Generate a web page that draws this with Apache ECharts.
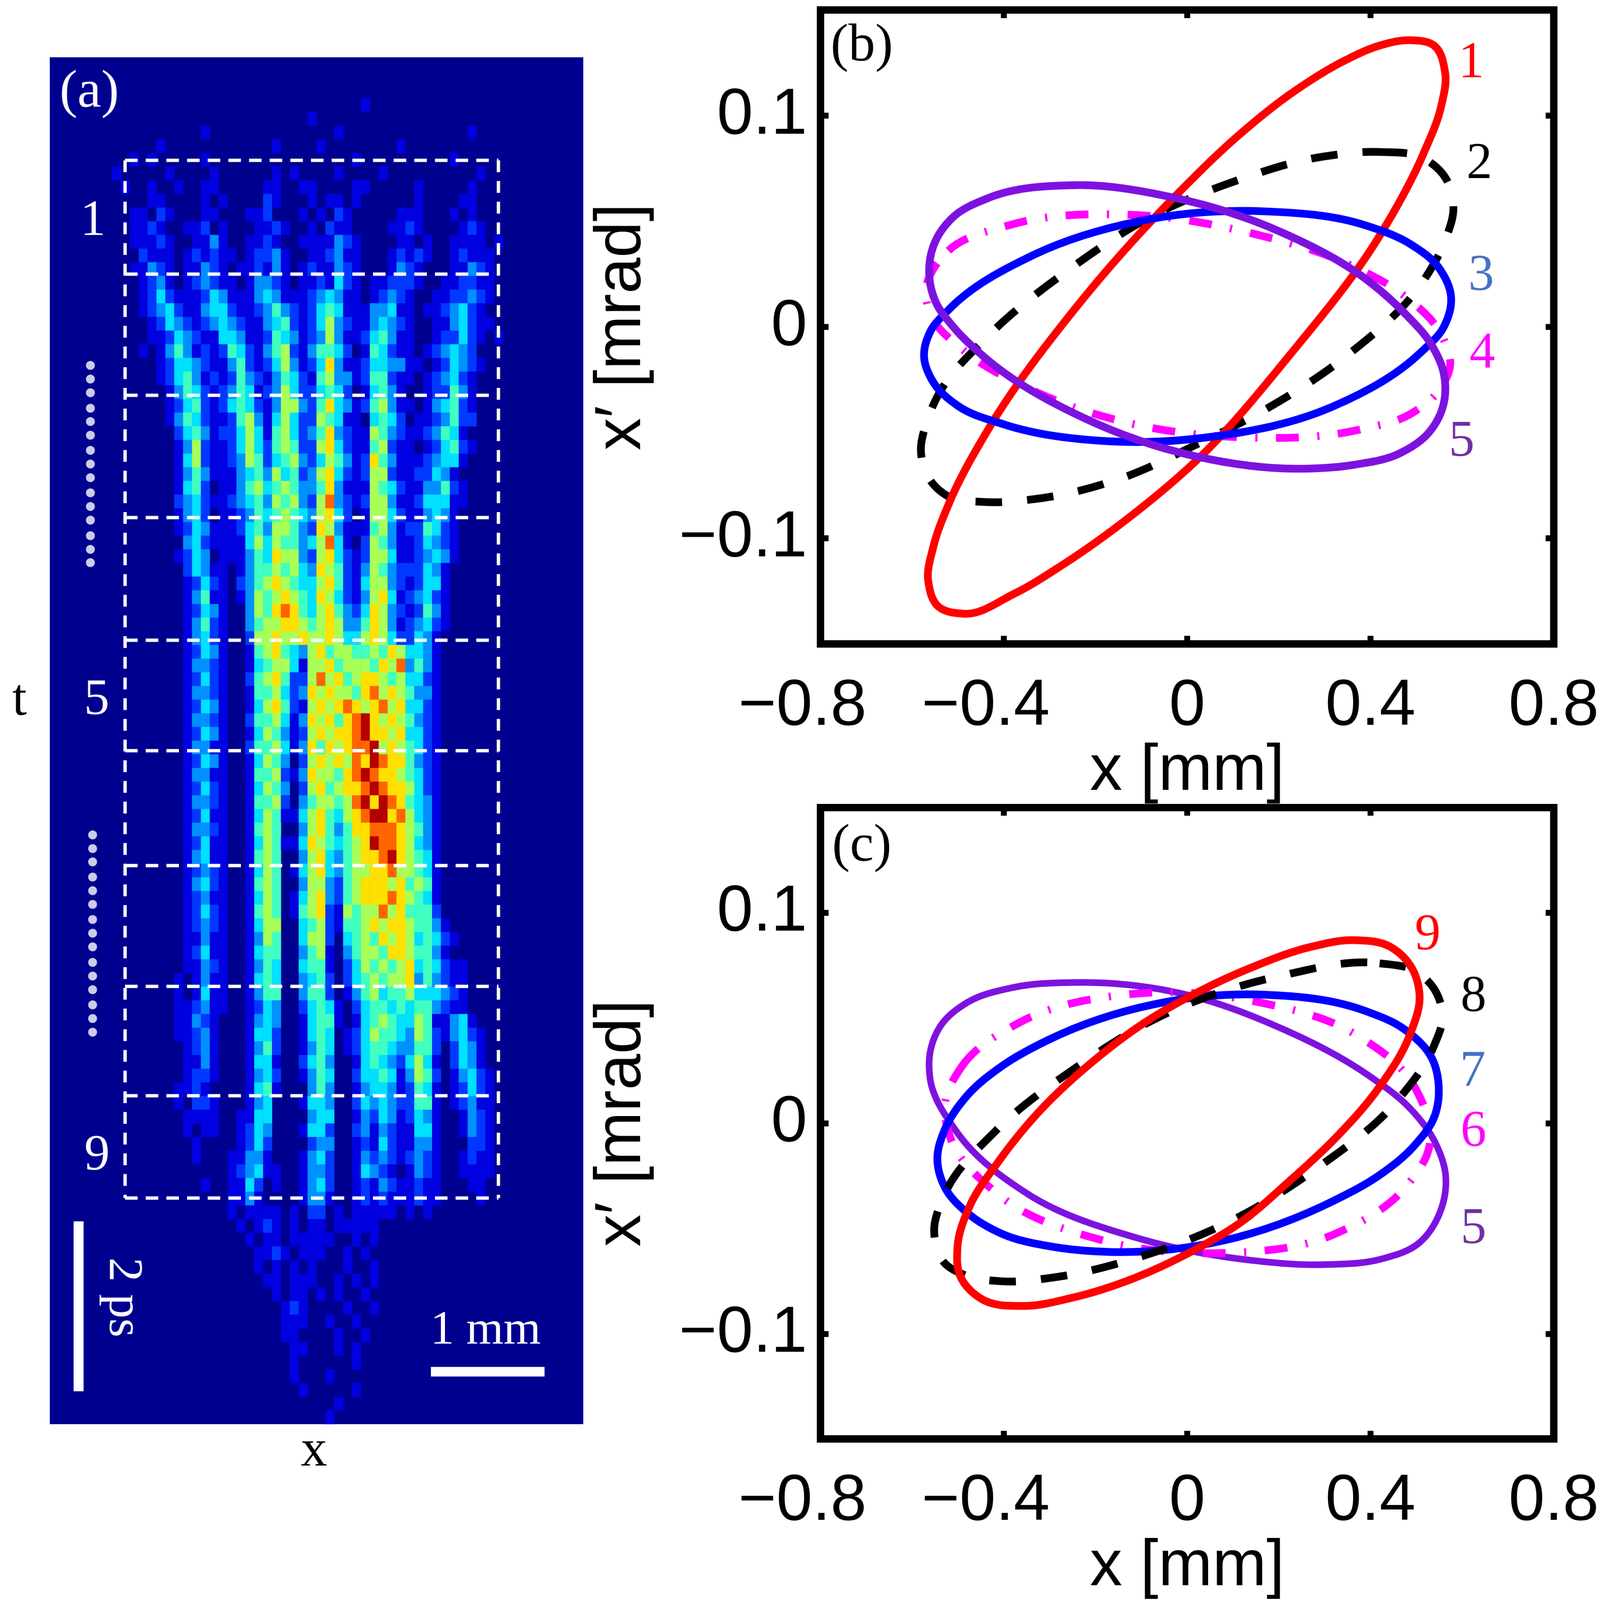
<!DOCTYPE html>
<html>
<head>
<meta charset="utf-8">
<title>beam slices</title>
<script src="https://cdn.jsdelivr.net/npm/echarts@6/dist/echarts.min.js"></script>
<style>
html, body { margin: 0; padding: 0; background: #fff; overflow: hidden; }
#main { width: 4337px; height: 4331px; transform-origin: 0 0; }
</style>
</head>
<body>
<div id="main"></div>
<script>
'use strict';

// (a) streak image, one digit per cell (0 = background, 9 = peak), read row by row from the top
var streakRows = [
'0000000000 0000000000 0000000000 0000000000 0000000000 0000000000',
'0000000000 0000000000 0000000000 0000000000 0000000000 0000000000',
'0000000000 0000000000 0000000000 0000000000 0000000000 0000000000',
'0000000000 0000000000 0000000000 0000010000 0000000000 0000000000',
'0000000000 0000000000 0000000001 0000000000 0000000000 0000000000',
'0000000000 0000000100 0000000000 0010000000 0000000100 0000000000',
'0000000000 0010000000 0000010000 1000000001 0000000000 0000000000',
'0000000001 0100000100 0000000000 0000100000 0000010000 0000000000',
'0000000100 0001000010 0000010100 0010000100 0000000010 0000000000',
'0000000010 0100100110 0000110011 0000110000 0100000100 0000000000',
'0000000000 0110000101 0000210001 0110100000 0100001100 0000000000',
'0000000001 1021000110 0011200010 1021000001 1100010100 0000000000',
'0000000001 1210011201 0001121001 0211000011 2100001210 0000000000',
'0000000001 1121001131 0011210011 1132100001 1010011110 1000000000',
'0000000000 2111012121 1012231001 1231100012 1210012111 0000000000',
'0000000001 1321011321 0112131012 1132100013 2100011321 0000000000',
'0000000000 1231012321 1013321011 2142101122 2100112211 0000000000',
'0000000000 1242111243 1113431112 3431101232 1001122321 0000000000',
'0000000000 1234211344 2112353212 4541113341 1011234210 0000000000',
'0000000000 0124321234 3211345212 4632113432 1001134211 0000000000',
'0000000000 0112432114 4311254312 3631124531 1001224210 1000000000',
'0000000000 1013531212 5421356213 5542015421 1012343200 0000000000',
'0000000000 0012443211 3521246312 4731124433 1101243210 0000000000',
'0000000000 0012453121 2532135421 5633125521 1012342100 0000000000',
'0000000000 0001354212 3541236422 4542014531 0012253100 0000000000',
'0000000000 0001245212 4542136632 5743125631 1013452100 0000000000',
'0000000000 0001354211 2563146422 6541104542 0112352200 0000000000',
'0000000000 0000245312 2464156423 5732116532 1123541000 0000000000',
'0000000000 0000136211 2464256522 6742115621 1012452100 0000000000',
'0000000000 0000146211 2365245632 4653127531 1123441000 0000000000',
'0000000000 0000135311 1345364523 6742126621 1224310000 0000000000',
'0000000000 0000145201 1356456533 5731116542 1133521000 0000000000',
'0000000000 0000234211 2345365632 6832126631 1244411000 0000000000',
'0000000000 0000134201 1235456543 6742016642 1134310000 0000000000',
'0000000000 0000124311 1245366532 7631115631 2254210000 0000000000',
'0000000000 0000034211 1146465534 6841026531 1243210000 0000000000',
'0000000000 0000124301 1135476632 6742126641 1234310000 0000000000',
'0000000000 0000024311 0135565643 7652136532 2243100000 0000000000',
'0000000000 0000012421 0235676544 6752146632 1244100000 0000000000',
'0000000000 0000013511 0136567654 7642136741 2342100000 0000000000',
'0000000000 0000012431 0036578754 6753247632 1253100000 0000000000',
'0000000000 0000013521 0035667765 6763357631 2342100000 0000000000',
'0000000000 0000013421 0026676676 6764467642 2431000000 0000000000',
'0000000000 0000012431 0015675436 7566556576 4431000000 0000000000',
'0000000000 0000013321 0014566416 6756665768 3531000000 0000000000',
'0000000000 0000012421 0025675226 8675677656 4421000000 0000000000',
'0000000000 0000013321 0015564237 6766578676 5331000000 0000000000',
'0000000000 0000012431 0014675216 7678767867 4421000000 0000000000',
'0000000000 0000013321 0025564137 6757897676 5321000000 0000000000',
'0000000000 0000012431 0014653126 7677897767 4421000000 0000000000',
'0000000000 0000013311 0025564137 5767889676 5421000000 0000000000',
'0000000000 0000012431 0014653026 7676879877 5321000000 0000000000',
'0000000000 0000013311 0015562137 6657898776 5421000000 0000000000',
'0000000000 0000012421 0014653026 7567789877 6421000000 0000000000',
'0000000000 0000013321 0015562035 6656897987 5431000000 0000000000',
'0000000000 0000012411 0014651146 7546789978 6431000000 0000000000',
'0000000000 0000013321 0015650036 7535778887 6531000000 0000000000',
'0000000000 0000012411 0014651147 6545679887 6431000000 0000000000',
'0000000000 0000013411 0015650036 7435677897 6541000000 0000000000',
'0000000000 0000012321 0014650146 7435667786 6541000000 0000000000',
'0000000000 0000013421 0015650036 6325677767 5651000000 0000000000',
'0000000000 0000012311 0014650146 7325677787 6541000000 0000000000',
'0000000000 0000012421 0015650156 7216566867 5552000000 0000000000',
'0000000000 0000012321 0014660045 6215567677 6553100000 0000000000',
'0000000000 0000011311 0013650046 6204565767 6454210000 0000000000',
'0000000000 0000012411 0014550035 6103566577 6553100000 0000000000',
'0000000000 0000011321 0013540045 5102465656 7454211000 0000000000',
'0000000000 0000101311 0014540034 5202456566 7353211000 0000000000',
'0000000000 0000101411 0013550035 5201356455 6444321000 0000000000',
'0000000000 0000112311 0012430024 5410245545 4553211000 0000000000',
'0000000000 0000113210 0013430014 5510145654 4651134100 0000000000',
'0000000000 0000112310 0014420014 5401246554 3652134210 0000000000',
'0000000000 0000012310 0013520013 5401245543 3552024310 0000000000',
'0000000000 0000011310 0014410024 5300145432 4641024310 0000000000',
'0000000000 0000012210 0013420013 5400244541 3652013421 0000000000',
'0000000000 0000112100 0014510003 5300134431 2541012421 0000000000',
'0000000000 0000102210 0013400014 4300243432 2551012311 0000000000',
'0000000000 0000011110 0114400003 4400132431 2431001321 0000000000',
'0000000000 0000010110 0124300014 4200231321 1441001321 0000000000',
'0000000000 0000001000 0124200002 3300121421 1331000221 0000000000',
'0000000000 0000001000 1133100013 4200132321 2321001211 0000000000',
'0000000000 0000000000 1234110013 3200143210 1321001111 0000000000',
'0000000000 0000000100 1142010013 4200121321 1211000110 0000000000',
'0000000000 0000000000 1131000013 3100121211 1211000010 0000000000',
'0000000000 0000000000 1011110102 2010111110 1010000000 0000000000',
'0000000000 0000000000 0101210101 1011111000 0000000000 0000000000',
'0000000000 0000000000 0010110111 1100101000 0000000000 0000000000',
'0000000000 0000000000 0001121011 1001010000 0000000000 0000000000',
'0000000000 0000000000 0001010101 0001001000 0000000000 0000000000',
'0000000000 0000000000 0000110111 0010101000 0000000000 0000000000',
'0000000000 0000000000 0000010110 1010010000 0000000000 0000000000',
'0000000000 0000000000 0000001210 0001001000 0000000000 0000000000',
'0000000000 0000000000 0000001110 0100100000 0000000000 0000000000',
'0000000000 0000000000 0000001100 0010010000 0000000000 0000000000',
'0000000000 0000000000 0000000110 0010100000 0000000000 0000000000',
'0000000000 0000000000 0000000100 0000100000 0000000000 0000000000',
'0000000000 0000000000 0000000100 0100000000 0000000000 0000000000',
'0000000000 0000000000 0000000010 0000100000 0000000000 0000000000',
'0000000000 0000000000 0000000000 0010000000 0000000000 0000000000',
'0000000000 0000000000 0000000000 0100000000 0000000000 0000000000'
];
var jetColors = ['#00008f', '#0000e0', '#0038ff', '#0090ff', '#00e0ff', '#40ffc0', '#a8ff58', '#ffe000', '#ff6400', '#b40000'];

// (a) slice boundaries and markers, in page pixels of the panel
var sliceLines = [434, 742, 1070, 1401, 1733, 2032, 2343, 2670, 2966, 3243];
var dotsUpper = [989, 1026, 1063, 1105, 1141, 1178, 1219, 1256, 1293, 1334, 1371, 1408, 1450, 1487, 1523];
var dotsLower = [2260, 2297, 2333, 2374, 2411, 2448, 2489, 2526, 2563, 2605, 2642, 2679, 2720, 2757, 2794];

// phase space axes
var xTicks = [-0.8, -0.4, 0, 0.4, 0.8];
var xTickLabels = ['\u22120.8', '\u22120.4', '0', '0.4', '0.8'];
var yTicks = [-0.1, 0, 0.1];
var yTickLabels = ['\u22120.1', '0', '0.1'];

// (b) ellipses, [x mm, x' mrad]
var b1 = [[.488,.1357],[.538,.1333],[.563,.1202],[.554,.1042],[.516,.0822],[.417,.0421],[.225,-.013],[.016,-.0641],[-.115,-.0882],[-.269,-.1122],[-.378,-.1263],[-.488,-.1357],[-.543,-.1323],[-.565,-.1202],[-.554,-.1042],[-.521,-.0842],[-.433,-.0481],[-.247,.008],[-.016,.0641],[.115,.0912],[.225,.1102],[.346,.1263],[.422,.1333],[.488,.1357]];
var b2 = [[.422,.0828],[.516,.0798],[.565,.0701],[.581,.0561],[.565,.0421],[.516,.022],[.346,-.014],[.17,-.0391],[.016,-.0561],[-.137,-.0711],[-.346,-.0818],[-.444,-.0828],[-.521,-.0802],[-.565,-.0711],[-.581,-.0581],[-.57,-.0461],[-.543,-.0321],[-.433,-.004],[-.258,.0271],[-.071,.0531],[.093,.0681],[.302,.0808],[.422,.0828]];
var b3 = [[.17,.0547],[.389,.0481],[.488,.0391],[.549,.0281],[.576,.014],[.56,0],[.51,-.012],[.313,-.0381],[.049,-.0521],[-.17,-.0541],[-.4,-.0461],[-.499,-.0375],[-.554,-.0261],[-.574,-.014],[-.56,-.002],[-.521,.008],[-.335,.0341],[-.104,.0501],[.17,.0547]];
var b4 = [[-.521,.0361],[-.389,.0481],[-.126,.0531],[.137,.0445],[.368,.0281],[.466,.016],[.56,-.006],[.574,-.018],[.549,-.0301],[.488,-.0411],[.378,-.0485],[.104,-.0521],[-.115,-.0461],[-.346,-.0291],[-.488,-.011],[-.56,.006],[-.57,.018],[-.549,.0291],[-.521,.0361]];
var b5 = [[-.247,.0671],[-.027,.0611],[.203,.0451],[.4,.021],[.477,.006],[.532,-.008],[.56,-.022],[.56,-.0361],[.527,-.0501],[.461,-.0601],[.368,-.0651],[.247,-.0671],[.016,-.0611],[-.225,-.0431],[-.444,-.014],[-.51,0],[-.549,.012],[-.563,.0261],[-.554,.0381],[-.51,.0521],[-.433,.0611],[-.247,.0671]];

// (c) ellipses
var c5 = [[-.249,.0669],[-.03,.0625],[.201,.0455],[.398,.0224],[.485,.0074],[.54,-.0086],[.564,-.0246],[.551,-.0427],[.507,-.0567],[.42,-.0647],[.31,-.0671],[.124,-.0647],[-.106,-.0547],[-.347,-.0337],[-.501,-.0046],[-.561,.0214],[-.561,.0335],[-.534,.0475],[-.479,.0575],[-.38,.0645],[-.249,.0669]];
var c6 = [[-.49,.0275],[-.369,.0475],[-.117,.0615],[.157,.0575],[.365,.0425],[.496,.0174],[.529,-.0106],[.475,-.0307],[.321,-.0527],[.069,-.0617],[-.183,-.0557],[-.413,-.0337],[-.517,-.0066],[-.528,.0094],[-.49,.0275]];
var c7 = [[.168,.0611],[.387,.0535],[.475,.0445],[.535,.0305],[.549,.0174],[.54,.0034],[.496,-.0106],[.42,-.0246],[.321,-.0367],[.08,-.0557],[-.172,-.0611],[-.293,-.0587],[-.402,-.0527],[-.479,-.0427],[-.528,-.0307],[-.545,-.0166],[-.528,-.0026],[-.479,.0134],[-.402,.0275],[-.304,.0395],[-.073,.0565],[.168,.0611]];
var c8 = [[.42,.076],[.496,.0725],[.54,.0635],[.557,.0495],[.54,.0375],[.453,.0094],[.288,-.0206],[.102,-.0457],[-.106,-.0637],[-.293,-.0733],[-.402,-.0751],[-.49,-.0717],[-.528,-.0667],[-.552,-.0517],[-.531,-.0347],[-.413,-.0026],[-.249,.0255],[-.052,.0515],[.201,.0699],[.42,.076]];
var c9 = [[.365,.087],[.442,.084],[.491,.0735],[.507,.0615],[.485,.0415],[.42,.0174],[.321,-.0076],[.222,-.0277],[.113,-.0477],[.003,-.0617],[-.117,-.0737],[-.249,-.0828],[-.358,-.0868],[-.446,-.0838],[-.495,-.0727],[-.501,-.0587],[-.473,-.0387],[-.413,-.0186],[-.315,.0074],[-.205,.0295],[-.095,.0475],[.025,.0625],[.146,.0745],[.266,.0836],[.365,.087]];

var serif = 'Liberation Serif';
var sans = 'Liberation Sans';
var dashLine = [72, 68];
var dashDot = [62, 50, 6, 50];

// the browser window can be narrower than the picture, so fit the 4337x4331 layout into it
var main = document.getElementById('main');
main.style.transform = 'scale(' + (window.innerWidth / 4337) + ',' + (window.innerHeight / 4331) + ')';

var chart = echarts.init(main, null, { renderer: 'canvas' });

var streakData = [];
var xCells = [];
var yCells = [];
streakRows.forEach(function(row, r) {
  var cells = row.replace(/ /g, '');
  yCells.push(r);
  for (var c = 0; c < 60; c++) {
    if (r === 0) xCells.push(c);
    if (cells[c] > 0) streakData.push([c, r, Number(cells[c])]);
  }
});

function overlayLine(points, width, dash) {
  return {
    type: 'line', xAxisIndex: 1, yAxisIndex: 1, data: points, symbol: 'none', silent: true, z: 5,
    lineStyle: { color: '#fff', width: width, type: dash || 'solid', cap: 'butt' }
  };
}

function dots(x, ys) {
  return {
    type: 'scatter', xAxisIndex: 1, yAxisIndex: 1, symbol: 'circle', symbolSize: 24, silent: true, z: 5,
    itemStyle: { color: '#fff' },
    data: ys.map(function(y) { return [x, y]; })
  };
}

function dist(a, b) {
  return Math.sqrt(Math.pow(b[0] - a[0], 2) + Math.pow(b[1] - a[1], 2)) || 1;
}

// direction of the curve at p1, the shorter neighbouring segment counts for more
function tangent(p0, p1, p2) {
  var d1 = dist(p0, p1), d2 = dist(p1, p2);
  var dx = (p1[0] - p0[0]) * d2 / d1 + (p2[0] - p1[0]) * d1 / d2;
  var dy = (p1[1] - p0[1]) * d2 / d1 + (p2[1] - p1[1]) * d1 / d2;
  var len = Math.sqrt(dx * dx + dy * dy) || 1;
  return [dx / len, dy / len];
}

// closed smooth path through the read points, ends on its first point
function loopPath(pts) {
  var n = pts.length - 1;
  var d = 'M' + pts[0][0] + ' ' + pts[0][1];
  for (var i = 0; i < n; i++) {
    var p0 = pts[(i + n - 1) % n], p1 = pts[i], p2 = pts[(i + 1) % n], p3 = pts[(i + 2) % n];
    var seg = dist(p1, p2) / 3;
    var t1 = tangent(p0, p1, p2), t2 = tangent(p1, p2, p3);
    d += 'C' + (p1[0] + t1[0] * seg) + ' ' + (p1[1] + t1[1] * seg) + ' ' +
      (p2[0] - t2[0] * seg) + ' ' + (p2[1] - t2[1] * seg) + ' ' + p2[0] + ' ' + p2[1];
  }
  return d;
}

function curve(points, axis, color, width, dash) {
  return {
    type: 'custom', xAxisIndex: axis, yAxisIndex: axis, data: points, silent: true, z: 3,
    encode: { x: 0, y: 1 },
    renderItem: function(params, api) {
      if (params.dataIndex !== 0) return null;
      return {
        type: 'path',
        shape: { pathData: loopPath(points.map(function(p) { return api.coord(p); })) },
        style: { fill: 'none', stroke: color, lineWidth: width, lineDash: dash || null, lineCap: 'butt', lineJoin: 'round' }
      };
    }
  };
}

function phaseGrid(top, height) {
  return { left: 2224, top: top, width: 1990, height: height, show: true, borderColor: '#000', borderWidth: 20, backgroundColor: '#fff' };
}

function phaseX(gridIndex, position) {
  var isMain = position === 'bottom';
  return {
    type: 'value', gridIndex: gridIndex, position: position, min: -0.8, max: 0.8, splitLine: { show: false },
    name: isMain ? 'x [mm]' : '', nameLocation: 'middle', nameGap: 218,
    nameTextStyle: { fontFamily: sans, fontSize: 176, color: '#000' },
    axisLine: { show: false, onZero: false },
    axisTick: { show: true, inside: true, length: 22, customValues: xTicks, lineStyle: { color: '#000', width: 16 } },
    axisLabel: {
      show: isMain, customValues: xTicks, margin: 82, fontFamily: sans, fontSize: 176, color: '#000',
      formatter: function(v) {
        var label = xTickLabels[xTicks.indexOf(v)];
        return v < 0 ? label + '\u00a0\u00a0' : label;
      }
    }
  };
}

function phaseY(gridIndex, position) {
  var isMain = position === 'left';
  return {
    type: 'value', gridIndex: gridIndex, position: position, min: -0.15, max: 0.15, splitLine: { show: false },
    name: isMain ? 'x\u2032 [mrad]' : '', nameLocation: 'middle', nameGap: 450,
    nameTextStyle: { fontFamily: sans, fontSize: 176, color: '#000' },
    axisLine: { show: false, onZero: false },
    axisTick: { show: true, inside: true, length: 22, customValues: yTicks, lineStyle: { color: '#000', width: 16 } },
    axisLabel: {
      show: isMain, customValues: yTicks, margin: 36, fontFamily: sans, fontSize: 176, color: '#000',
      formatter: function(v) { return yTickLabels[yTicks.indexOf(v)]; }
    }
  };
}

function note(text, x, y, color, size, rotation) {
  return {
    type: 'text', x: x, y: y, rotation: rotation || 0, z: 10, silent: true,
    style: { text: text, fill: color, font: (size || 145) + 'px "' + serif + '"', textAlign: 'center', textVerticalAlign: 'middle' }
  };
}

var series = [{
  type: 'heatmap', xAxisIndex: 0, yAxisIndex: 0, data: streakData, silent: true, progressive: 0,
  itemStyle: { borderWidth: 0 }, emphasis: { disabled: true }
}];
sliceLines.forEach(function(y) {
  series.push(overlayLine([[339, y], [1351, y]], 9, [34, 22]));
});
series.push(overlayLine([[339, 434], [339, 3243]], 9, [32, 24]));
series.push(overlayLine([[1351, 434], [1351, 3243]], 9, [32, 24]));
series.push(dots(245, dotsUpper));
series.push(dots(251, dotsLower));
series.push(overlayLine([[213, 3306], [213, 3766]], 27));
series.push(overlayLine([[1168, 3713], [1476, 3713]], 26));

// drawing order is the stacking seen in each panel
series.push(curve(b2, 2, '#000', 21, dashLine));
series.push(curve(b4, 2, '#ff00ff', 21, dashDot));
series.push(curve(b1, 2, '#ff0000', 21));
series.push(curve(b3, 2, '#0000ff', 21));
series.push(curve(b5, 2, '#7d12e0', 21));

series.push(curve(c5, 4, '#7d12e0', 18));
series.push(curve(c6, 4, '#ff00ff', 21, dashDot));
series.push(curve(c7, 4, '#0000ff', 21));
series.push(curve(c8, 4, '#000', 21, dashLine));
series.push(curve(c9, 4, '#ff0000', 21));

chart.setOption({
  animation: false,
  backgroundColor: '#fff',
  visualMap: { show: false, type: 'continuous', seriesIndex: 0, min: 0, max: 9, inRange: { color: jetColors } },
  grid: [
    { left: 135, top: 155, width: 1446, height: 3700, show: true, borderWidth: 0, backgroundColor: '#00008f' },
    { left: 135, top: 155, width: 1446, height: 3700 },
    phaseGrid(27, 1716),
    phaseGrid(2186, 1720)
  ],
  xAxis: [
    { type: 'category', gridIndex: 0, data: xCells, show: false },
    { type: 'value', gridIndex: 1, min: 135, max: 1581, show: false },
    phaseX(2, 'bottom'),
    phaseX(2, 'top'),
    phaseX(3, 'bottom'),
    phaseX(3, 'top')
  ],
  yAxis: [
    { type: 'category', gridIndex: 0, data: yCells, inverse: true, show: false },
    { type: 'value', gridIndex: 1, min: 155, max: 3855, inverse: true, show: false },
    phaseY(2, 'left'),
    phaseY(2, 'right'),
    phaseY(3, 'left'),
    phaseY(3, 'right')
  ],
  graphic: [
    note('(a)', 242, 251, '#fff', 145),
    note('1', 252, 600, '#fff', 138),
    note('5', 262, 1897, '#fff', 138),
    note('9', 263, 3130, '#fff', 138),
    note('2 ps', 333, 3512, '#fff', 132, -Math.PI / 2),
    note('1 mm', 1316, 3603, '#fff', 130),
    note('x', 851, 3930, '#000', 142),
    note('t', 53, 1898, '#000', 142),
    note('(b)', 2336, 126, '#000'),
    note('1', 3988, 172, '#ff0000', 140),
    note('2', 4010, 445, '#000', 140),
    note('3', 4015, 748, '#4472c4', 140),
    note('4', 4018, 958, '#ff00ff', 140),
    note('5', 3962, 1197, '#7030a0', 140),
    note('(c)', 2336, 2292, '#000'),
    note('9', 3870, 2533, '#ff0000', 140),
    note('8', 3994, 2700, '#000', 140),
    note('7', 3992, 2902, '#4472c4', 140),
    note('6', 3994, 3065, '#ff00ff', 140),
    note('5', 3994, 3328, '#7030a0', 140)
  ],
  series: series
});
</script>
</body>
</html>
